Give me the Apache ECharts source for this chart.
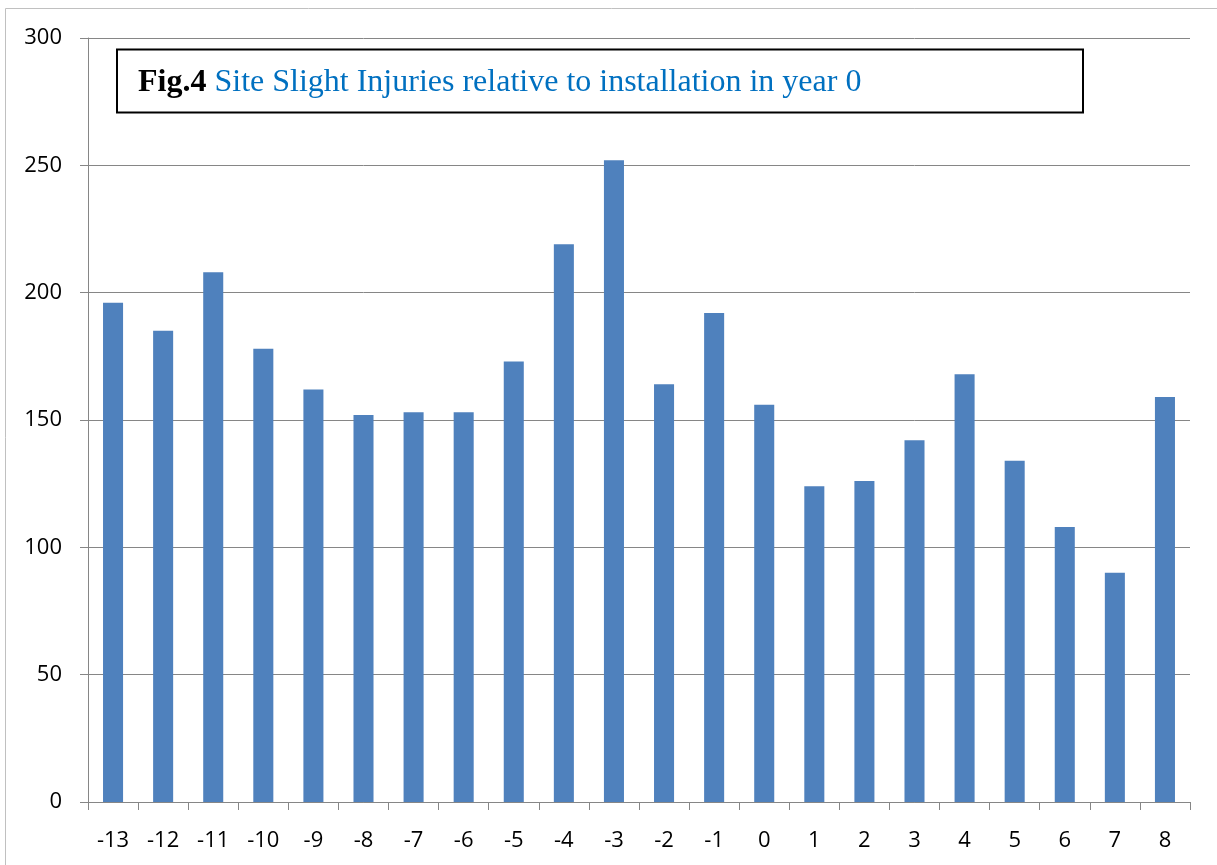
<!DOCTYPE html>
<html>
<head>
<meta charset="utf-8">
<script src="https://cdn.jsdelivr.net/npm/echarts@6/dist/echarts.min.js"></script>
<style>
  html, body { margin: 0; padding: 0; background: #fff; }
  #chart { width: 1217px; height: 865px; }
</style>
</head>
<body>
<div id="chart"></div>
<script>
// years relative to installation
const years = ['-13', '-12', '-11', '-10', '-9', '-8', '-7', '-6', '-5', '-4', '-3',
    '-2', '-1', '0', '1', '2', '3', '4', '5', '6', '7', '8']
// slight injuries per year
const injuries = [196, 185, 208, 178, 162, 152, 153, 153, 173, 219, 252,
    164, 192, 156, 124, 126, 142, 168, 134, 108, 90, 159]

const chart = echarts.init(document.getElementById('chart'))

const AXIS_GREY = '#868686'
const LABEL_FONT = 'Open Sans'

chart.setOption({
    animation: false,
    grid: { left: 88, right: 27, top: 38, bottom: 63, containLabel: false },
    xAxis: {
        type: 'category',
        data: years,
        boundaryGap: true,
        axisLine: { lineStyle: { color: AXIS_GREY, width: 1 } },
        axisTick: { show: true, length: 8, lineStyle: { color: AXIS_GREY } },
        axisLabel: { color: '#000', fontSize: 22, fontFamily: LABEL_FONT, margin: 28 }
    },
    yAxis: {
        type: 'value',
        min: 0,
        max: 300,
        interval: 50,
        axisLine: { show: true, lineStyle: { color: AXIS_GREY, width: 1 } },
        axisTick: { show: true, length: 8, lineStyle: { color: AXIS_GREY } },
        splitLine: { show: true, lineStyle: { color: AXIS_GREY, width: 1 } },
        axisLabel: { color: '#000', fontSize: 22, fontFamily: LABEL_FONT, margin: 26 }
    },
    series: [{
        type: 'bar',
        data: injuries,
        barWidth: '40%',
        itemStyle: { color: '#4f81bd' }
    }],
    graphic: [
        // outer chart border
        {
            type: 'rect',
            shape: { x: 5.5, y: 8.5, width: 1300, height: 900 },
            style: { fill: 'none', stroke: '#c0c0c0', lineWidth: 1 },
            silent: true
        },
        // title box
        {
            type: 'rect',
            shape: { x: 117, y: 49.5, width: 966, height: 63 },
            style: { fill: '#fff', stroke: '#000', lineWidth: 2 },
            z: 10
        },
        {
            type: 'text',
            left: 138,
            top: 67,
            z: 11,
            style: {
                text: '{b|Fig.4}{t| Site Slight Injuries relative to installation in year 0}',
                rich: {
                    b: { fontFamily: 'Liberation Serif', fontSize: 32, fontWeight: 'bold', fill: '#000' },
                    t: { fontFamily: 'Liberation Serif', fontSize: 32, fill: '#0070c0' }
                }
            }
        }
    ]
})
</script>
</body>
</html>
